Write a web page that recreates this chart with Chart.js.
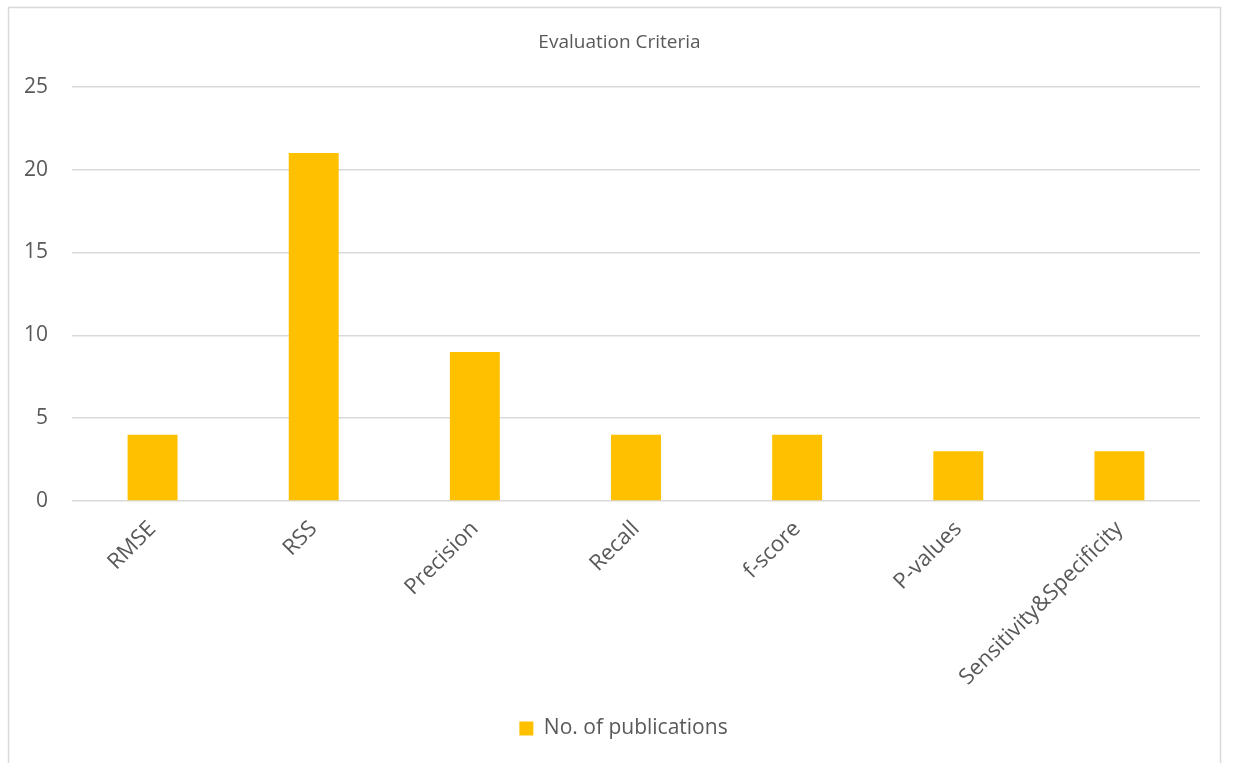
<!DOCTYPE html>
<html>

<head>
	<meta charset="utf-8">
	<title>Evaluation Criteria</title>
	<style>
		html, body { margin: 0; padding: 0; background: #fff; overflow: hidden; }
		#wrap { position: absolute; left: 0; top: 0; width: 1233px; height: 763px; }
	</style>
</head>

<body>
	<script src="https://cdn.jsdelivr.net/npm/chart.js"></script>
	<div id="wrap">
		<canvas id="myChart"></canvas>
	</div>

	<script>
    // criteria and how many publications use each
    const criteria = ['RMSE', 'RSS', 'Precision', 'Recall', 'f-score', 'P-values', 'Sensitivity&Specificity'];
    const publications = [4, 21, 9, 4, 4, 3, 3];
    const yTicks = [0, 5, 10, 15, 20, 25];

    const textColor = '#595959';
    const gridColor = '#d9d9d9';
    const fontFamily = '"Open Sans", sans-serif';

    // thin frame round the chart, open at the bottom
    const frame = {
      id: 'frame',
      beforeDraw(chart) {
        const c = chart.ctx;
        c.save();
        c.strokeStyle = '#d9d9d9';
        c.lineWidth = 1.5;
        c.beginPath();
        c.moveTo(8.5, 800);
        c.lineTo(8.5, 7.5);
        c.lineTo(1220.5, 7.5);
        c.lineTo(1220.5, 800);
        c.stroke();
        c.restore();
      }
    };

    // centre title and legend a bit further right than the padded canvas would
    const nudge = {
      id: 'nudge',
      afterLayout(chart) {
        if (chart.titleBlock) {
          chart.titleBlock.left += 15;
          chart.titleBlock.right += 15;
        }
        if (chart.legend) {
          chart.legend.left += 19;
          chart.legend.right += 19;
          chart.legend.adjustHitBoxes();
        }
      }
    };

    const ctx = document.getElementById('myChart').getContext('2d');
    const myChart = new Chart(ctx, {
      type: 'bar',
      data: {
        labels: criteria,
        datasets: [{
          label: 'No. of publications',
          data: publications,
          backgroundColor: '#ffc000',
          borderWidth: 0,
          categoryPercentage: 1,
          barPercentage: 0.31
        }]
      },
      options: {
        responsive: true,
        maintainAspectRatio: false,
        animation: false,
        layout: { padding: { top: 31, left: 9, right: 33, bottom: 14 } },
        plugins: {
          title: {
            display: true,
            text: 'Evaluation Criteria',
            color: textColor,
            font: { family: fontFamily, size: 19, weight: 'normal' },
            padding: { top: 0, bottom: 33 }
          },
          legend: {
            position: 'bottom',
            labels: {
              color: textColor,
              font: { family: fontFamily, size: 21 },
              boxWidth: 14,
              boxHeight: 14,
              padding: 10
            }
          },
          tooltip: { enabled: false }
        },
        scales: {
          y: {
            min: 0,
            max: 25,
            afterBuildTicks(scale) {
              scale.ticks = yTicks.map(v => ({ value: v }));
            },
            afterFit(scale) { scale.width = 63; },
            grid: { color: gridColor, lineWidth: 1.5, drawTicks: false },
            border: { display: false },
            ticks: {
              color: textColor,
              font: { family: fontFamily, size: 21 },
              padding: 24
            }
          },
          x: {
            afterFit(scale) { scale.height = 207; },
            grid: { display: false },
            border: { display: false },
            ticks: {
              color: textColor,
              font: { family: fontFamily, size: 22 },
              minRotation: 45,
              maxRotation: 45,
              padding: 7
            }
          }
        }
      },
      plugins: [frame, nudge]
    });
	</script>

</body>

</html>
